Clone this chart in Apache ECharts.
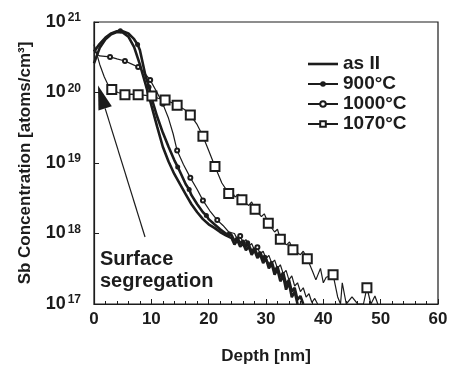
<!DOCTYPE html>
<html><head><meta charset="utf-8">
<script src="https://cdn.jsdelivr.net/npm/echarts@6/dist/echarts.min.js"></script>
<style>html,body{margin:0;padding:0;background:#fff}#c{width:451px;height:370px}</style>
</head><body><div id="c"></div>
<script>
const seriesNames = ['as II', '900°C', '1000°C', '1070°C'];

const asII = [[0,2.6e20],[1,4.3e20],[2,5.7e20],[3,6.7e20],[4,7.2e20],[5,7.1e20],[6,6.2e20],[7,4.4e20],[8,2.5e20],[9,1.3e20],[10,6.6e19],[11,3.3e19],[12,1.7e19],[13,1.05e19],[14,7.0e18],[15,5.0e18],[16,3.6e18],[17,2.6e18],[18,2.0e18],[19,1.6e18],[20,1.35e18],[21,1.2e18],[22,1.05e18],[23,9.4e17],
[24,8.6e17],[24.5,7.0e17],[25,8.0e17],[25.5,6.5e17],[26,7.2e17],[26.5,5.8e17],[27,6.5e17],[27.5,5.0e17],[28,5.8e17],[28.5,4.5e17],[29,5.0e17],[29.5,3.8e17],[30,4.4e17],[30.5,3.2e17],[31,3.7e17],[31.5,2.6e17],[32,3.1e17],[32.5,2.1e17],[33,2.5e17],[33.5,1.6e17],[34,2.0e17],[34.5,1.25e17],[35,1.5e17],[35.5,1.0e17]];

const t900 = [[0,3.8e20],[1,4.9e20],[2,6.0e20],[3,6.9e20],[4,7.4e20],[5,7.4e20],[6,6.9e20],[7,5.7e20],[8,4.0e20],[9,1.7e20],[10,8.5e19],[11,4.6e19],[12,2.7e19],[13,1.7e19],[14,1.1e19],[15,7.5e18],[16,5.0e18],[17,3.5e18],[18,2.6e18],[19,2.0e18],[20,1.6e18],[21,1.35e18],[22,1.15e18],[23,1.0e18],
[24,9.5e17],[24.5,7.8e17],[25,8.8e17],[25.5,7.2e17],[26,8.0e17],[26.5,6.4e17],[27,7.0e17],[27.5,5.6e17],[28,6.2e17],[28.5,4.9e17],[29,5.5e17],[29.5,4.2e17],[30,4.8e17],[30.5,3.6e17],[31,4.0e17],[31.5,2.9e17],[32,3.4e17],[32.5,2.4e17],[33,2.8e17],[33.5,1.9e17],[34,2.2e17],[34.5,1.5e17],[35,1.7e17],[35.5,1.15e17],[36,1.3e17],[36.5,1.0e17]];
const t900Marks = [[4.6,7.5e20],[7.6,4.8e20],[9.6,1.2e20],[14.6,8.8e18],[16.6,4.2e18],[19.6,1.8e18],[23.6,9.8e17],[26.8,7.4e17],[29.8,4.6e17]];

const t1000 = [[0,4.0e20],[0.5,3.5e20],[1,3.3e20],[4,3.0e20],[6.5,2.55e20],[8.8,1.9e20],[11,1.0e20],[13,4.3e19],[13.8,2.6e19],[15.6,9.5e18],[18,4.2e18],[20.2,2.1e18],[22.5,1.3e18],[23.5,1.05e18],
[24.5,1.0e18],[25,8.2e17],[25.5,9.2e17],[26,7.4e17],[26.5,8.2e17],[27,6.6e17],[27.5,7.2e17],[28,5.8e17],[28.5,6.4e17],[29,5.1e17],[29.5,5.6e17],[30,4.4e17],[30.5,4.9e17],[31,3.8e17],[31.5,4.2e17],[32,3.2e17],[32.5,3.6e17],[33,2.7e17],[33.5,3.0e17],[34,2.2e17],[34.5,2.5e17],[35,1.8e17],[35.5,2.0e17],[36,1.5e17],[36.5,1.7e17],[37,1.25e17],[37.5,1.4e17],[38,1.05e17],[38.5,1.2e17],[39,1.0e17]];
const t1000Marks = [[2.8,3.2e20],[5.4,2.8e20],[7.7,2.3e20],[9.8,1.5e20],[12,6.9e19],[14.5,1.5e19],[16.8,6.2e18],[19,2.95e18],[21.5,1.55e18],[25.5,9.2e17],[28.5,6.4e17]];

const t1070 = [[0,4.8e20],[0.5,3.5e20],[1,2.5e20],[1.8,1.66e20],[2.5,1.26e20],[4.2,1.0e20],[6.5,9.5e19],[9,9.1e19],[11.2,8.3e19],[13.5,7.2e19],[15.7,5.8e19],[18,3.5e19],[20,1.5e19],[22.3,5.2e18],[24,4.0e18],[24.6,3.3e18],[25.2,3.6e18],
[27,2.5e18],[27.5,2.8e18],[29.2,1.74e18],[29.7,1.9e18],[31.5,1.05e18],[32,1.15e18],[33.6,6.9e17],[34.1,7.6e17],[36,5.0e17],[36.5,5.6e17],[38.2,2.8e17],[38.7,2.2e17],[39.5,3.2e17],[40,2.0e17],[40.5,2.4e17],[42.5,1.26e17],[43,1.0e17],[43.3,2.0e17],[44,1.0e17],[45,1.26e17],[46,1.0e17],[47,1.0e17],[48.3,1.0e17],[49,1.3e17],[49.5,1.0e17]];
const t1070Marks = [[3.1,1.1e20],[5.4,9.3e19],[7.7,9.3e19],[10.1,8.9e19],[12.4,7.8e19],[14.5,6.6e19],[16.8,4.8e19],[19,2.4e19],[21.1,8.9e18],[23.5,3.7e18],[25.8,3.0e18],[28.1,2.2e18],[30.4,1.4e18],[32.5,8.3e17],[34.7,5.9e17],[37.2,4.4e17],[41.7,2.6e17],[47.6,1.7e17]];

const arrowTail = [8.9, Math.pow(10, 17.95)];
const arrowTip = [0.7, Math.pow(10, 20.1)];

function build(line, marks) {
  const pts = line.map(p => ({ value: p, symbol: 'none' })).concat(marks.map(p => ({ value: p })));
  pts.sort((a, b) => a.value[0] - b.value[0]);
  return pts;
}

const ink = '#1c1c1c';
const font = 'Liberation Sans, Arial, Helvetica, sans-serif';
const chart = echarts.init(document.getElementById('c'));
chart.setOption({
  animation: false,
  backgroundColor: '#fff',
  grid: { left: 94, right: 13, top: 22, bottom: 56, show: true, borderColor: ink, borderWidth: 1.2, backgroundColor: 'transparent' },
  legend: {
    orient: 'vertical', left: 307, top: 54, padding: 0, itemWidth: 30, itemHeight: 7, itemGap: 0,
    textStyle: { fontFamily: font, fontWeight: 'bold', fontSize: 19, color: ink, lineHeight: 20 },
    data: [{ name: seriesNames[0], icon: 'path://M0,0h30v2.6h-30z' }, seriesNames[1], seriesNames[2], seriesNames[3]]
  },
  xAxis: {
    type: 'value', min: 0, max: 60, interval: 10,
    name: 'Depth [nm]', nameLocation: 'middle', nameGap: 44,
    nameTextStyle: { fontFamily: font, fontWeight: 'bold', fontSize: 17, color: ink },
    axisLine: { lineStyle: { color: ink, width: 1.2 } },
    axisTick: { inside: true, length: 5, lineStyle: { color: ink } },
    minorTick: { show: true, splitNumber: 5, length: 3, lineStyle: { color: ink } },
    axisLabel: { fontFamily: font, fontWeight: 'bold', fontSize: 17, color: ink, margin: 7 },
    splitLine: { show: false }
  },
  yAxis: {
    type: 'log', logBase: 10, min: 1e17, max: 1e21,
    name: 'Sb Concentration [atoms/cm³]', nameLocation: 'middle', nameGap: 60,
    nameTextStyle: { fontFamily: font, fontWeight: 'bold', fontSize: 17, color: ink },
    axisLine: { lineStyle: { color: ink, width: 1.2 } },
    axisTick: { inside: true, length: 5, lineStyle: { color: ink } },
    axisLabel: {
      margin: 13,
      formatter: v => '{a|10}{b|' + Math.round(Math.log10(v)) + '}',
      rich: {
        a: { fontFamily: font, fontWeight: 'bold', fontSize: 18, color: ink },
        b: { fontFamily: font, fontWeight: 'bold', fontSize: 12, color: ink, verticalAlign: 'top', padding: [0,0,8,2] }
      }
    },
    splitLine: { show: false }
  },
  series: [
    { name: seriesNames[0], type: 'line', data: asII, symbol: 'none', lineStyle: { color: ink, width: 2.6 }, itemStyle: { color: ink }, z: 3 },
    { name: seriesNames[1], type: 'line', data: build(t900, t900Marks), symbol: 'circle', symbolSize: 5, lineStyle: { color: ink, width: 2.6 }, itemStyle: { color: ink }, z: 3 },
    { name: seriesNames[2], type: 'line', data: build(t1000, t1000Marks), symbol: 'emptyCircle', symbolSize: 4, lineStyle: { color: ink, width: 1.2 }, itemStyle: { color: ink, borderColor: ink, borderWidth: 1 }, z: 4 },
    { name: seriesNames[3], type: 'line', data: build(t1070, t1070Marks), symbol: 'emptyRect', symbolSize: 9, lineStyle: { color: ink, width: 1.2 }, itemStyle: { color: ink, borderColor: ink, borderWidth: 1.2 }, z: 5 }
  ]
});

const tip = chart.convertToPixel({ gridIndex: 0 }, arrowTip);
const tail = chart.convertToPixel({ gridIndex: 0 }, arrowTail);
const dx = tip[0] - tail[0], dy = tip[1] - tail[1];
const L = Math.hypot(dx, dy), ux = dx / L, uy = dy / L;
const headLen = 24, halfW = 7;
const bx = tip[0] - ux * headLen, by = tip[1] - uy * headLen;
chart.setOption({
  graphic: [
    { type: 'line', shape: { x1: tail[0], y1: tail[1], x2: bx, y2: by }, style: { stroke: ink, lineWidth: 1.2 }, z: 10 },
    { type: 'polygon', shape: { points: [[tip[0], tip[1]], [bx - uy * halfW, by + ux * halfW], [bx + uy * halfW, by - ux * halfW]] }, style: { fill: ink }, z: 10 },
    { type: 'text', left: 100, top: 248, style: { text: 'Surface\nsegregation', fontFamily: font, fontWeight: 'bold', fontSize: 20, lineHeight: 22, fill: ink }, z: 10 }
  ]
});
</script>
</body></html>
